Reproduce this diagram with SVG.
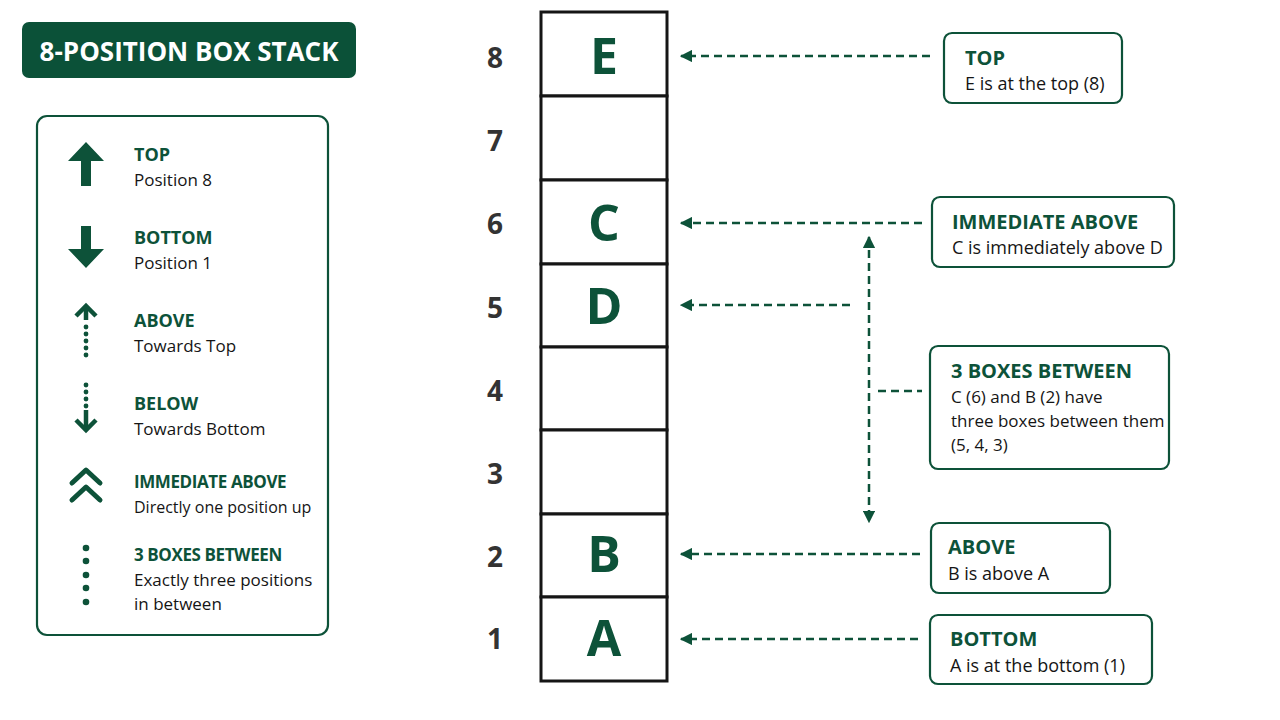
<svg xmlns="http://www.w3.org/2000/svg" width="1280" height="720" viewBox="0 0 1280 720">
<defs>
<style>
text{font-family:"Open Sans","Noto Sans","Liberation Sans",sans-serif}
.ttl{fill:#0d5239;font-weight:700;font-size:20px}
.sub{fill:#151515;font-size:18px}
.sub2{fill:#151515;font-size:17px}
.lt{fill:#0d5239;font-weight:700;font-size:18px}
.lt2{fill:#0d5239;font-weight:700;font-size:17px;letter-spacing:-0.4px}
.ls{fill:#151515;font-size:17px}
.ls2{fill:#151515;font-size:16px}
.box{fill:#fff;stroke:#0d5239;stroke-width:2.2}
.cell{fill:#fff;stroke:#151515;stroke-width:3}
.let{fill:#0d5239;font-weight:700;font-size:50px;text-anchor:middle}
.num{fill:#333;font-weight:700;font-size:28px;text-anchor:middle}
.dash{stroke:#0d5239;stroke-width:2.5;stroke-dasharray:8 5;fill:none}
.ic{fill:#0d5239}
</style>
<marker id="ah" viewBox="0 0 10 10" refX="9" refY="5" markerWidth="5" markerHeight="5" orient="auto-start-reverse" markerUnits="strokeWidth">
<path d="M0,0 L10,5 L0,10 z" fill="#0d5239"/>
</marker>
</defs>
<rect width="1280" height="720" fill="#fff"/>

<g id="title">
<rect x="22" y="22" width="334" height="56" rx="7" fill="#0b5138"/>
<text x="189" y="61" text-anchor="middle" fill="#fff" font-weight="700" font-size="26">8-POSITION BOX STACK</text>
</g>

<g id="legend">
<rect x="37" y="116" width="291" height="519" rx="10" class="box"/>
<path class="ic" d="M86,142 L104,161 L91,161 L91,186 L81,186 L81,161 L68,161 Z"/>
<text x="134" y="161" class="lt">TOP</text>
<text x="134" y="186" class="ls">Position 8</text>
<path class="ic" d="M86,268 L104,249 L91,249 L91,226 L81,226 L81,249 L68,249 Z"/>
<text x="134" y="244" class="lt">BOTTOM</text>
<text x="134" y="269" class="ls">Position 1</text>
<path d="M76,316 L86,306 L96,316" fill="none" stroke="#0d5239" stroke-width="4.5" stroke-linejoin="miter"/>
<line x1="86" y1="308" x2="86" y2="320" stroke="#0d5239" stroke-width="4.5"/>
<g class="ic"><circle cx="86" cy="327" r="2.4"/><circle cx="86" cy="334" r="2.4"/><circle cx="86" cy="341" r="2.4"/><circle cx="86" cy="348" r="2.4"/><circle cx="86" cy="355" r="2.4"/></g>
<text x="134" y="327" class="lt">ABOVE</text>
<text x="134" y="352" class="ls">Towards Top</text>
<g class="ic"><circle cx="86" cy="385" r="2.4"/><circle cx="86" cy="392" r="2.4"/><circle cx="86" cy="399" r="2.4"/><circle cx="86" cy="406" r="2.4"/></g>
<line x1="86" y1="410" x2="86" y2="428" stroke="#0d5239" stroke-width="4.5"/>
<path d="M76,420 L86,430 L96,420" fill="none" stroke="#0d5239" stroke-width="4.5"/>
<text x="134" y="410" class="lt">BELOW</text>
<text x="134" y="435" class="ls">Towards Bottom</text>
<path d="M72,483 L86,470 L100,483 M72,500 L86,487 L100,500" fill="none" stroke="#0d5239" stroke-width="5" stroke-linecap="round" stroke-linejoin="round"/>
<text x="134" y="488" class="lt2">IMMEDIATE ABOVE</text>
<text x="134" y="513" class="ls2">Directly one position up</text>
<g class="ic"><circle cx="86" cy="548" r="3.3"/><circle cx="86" cy="561" r="3.3"/><circle cx="86" cy="575" r="3.3"/><circle cx="86" cy="588" r="3.3"/><circle cx="86" cy="602" r="3.3"/></g>
<text x="134" y="561" class="lt2">3 BOXES BETWEEN</text>
<text x="134" y="586" class="ls">Exactly three positions</text>
<text x="134" y="610" class="ls">in between</text>
</g>

<g id="stack">
<g id="cell8"><rect x="541" y="12" width="126" height="84" class="cell"/><text x="604" y="74" class="let">E</text><text x="495" y="68" class="num">8</text></g>
<g id="cell7"><rect x="541" y="96" width="126" height="84" class="cell"/><text x="495" y="151" class="num">7</text></g>
<g id="cell6"><rect x="541" y="180" width="126" height="84" class="cell"/><text x="604" y="241" class="let">C</text><text x="495" y="234" class="num">6</text></g>
<g id="cell5"><rect x="541" y="264" width="126" height="83" class="cell"/><text x="604" y="324" class="let">D</text><text x="495" y="318" class="num">5</text></g>
<g id="cell4"><rect x="541" y="347" width="126" height="83" class="cell"/><text x="495" y="401" class="num">4</text></g>
<g id="cell3"><rect x="541" y="430" width="126" height="84" class="cell"/><text x="495" y="484" class="num">3</text></g>
<g id="cell2"><rect x="541" y="514" width="126" height="83" class="cell"/><text x="604" y="572" class="let">B</text><text x="495" y="567" class="num">2</text></g>
<g id="cell1"><rect x="541" y="597" width="126" height="84" class="cell"/><text x="604" y="656" class="let">A</text><text x="495" y="649" class="num">1</text></g>
</g>

<g id="connectors">
<line x1="930" y1="56" x2="681" y2="56" class="dash" marker-end="url(#ah)"/>
<line x1="922" y1="223" x2="681" y2="223" class="dash" marker-end="url(#ah)"/>
<line x1="850" y1="305" x2="681" y2="305" class="dash" marker-end="url(#ah)"/>
<line x1="869" y1="237" x2="869" y2="522" class="dash" marker-start="url(#ah)" marker-end="url(#ah)"/>
<line x1="878" y1="391" x2="922" y2="391" class="dash"/>
<line x1="920" y1="554" x2="681" y2="554" class="dash" marker-end="url(#ah)"/>
<line x1="918" y1="639" x2="681" y2="639" class="dash" marker-end="url(#ah)"/>
</g>

<g id="call-top">
<rect x="944" y="33" width="178" height="70" rx="8" class="box"/>
<text x="965" y="65" class="ttl">TOP</text>
<text x="965" y="90" class="sub">E is at the top (8)</text>
</g>
<g id="call-immediate">
<rect x="932" y="197" width="242" height="70" rx="8" class="box"/>
<text x="952" y="229" class="ttl">IMMEDIATE ABOVE</text>
<text x="952" y="254" class="sub">C is immediately above D</text>
</g>
<g id="call-between">
<rect x="930" y="346" width="239" height="123" rx="8" class="box"/>
<text x="951" y="378" class="ttl">3 BOXES BETWEEN</text>
<text x="951" y="403" class="sub2">C (6) and B (2) have</text>
<text x="951" y="427" class="sub2">three boxes between them</text>
<text x="951" y="451" class="sub2">(5, 4, 3)</text>
</g>
<g id="call-above">
<rect x="931" y="523" width="179" height="70" rx="8" class="box"/>
<text x="948" y="554" class="ttl">ABOVE</text>
<text x="948" y="580" class="sub">B is above A</text>
</g>
<g id="call-bottom">
<rect x="930" y="615" width="222" height="69" rx="8" class="box"/>
<text x="950" y="646" class="ttl">BOTTOM</text>
<text x="950" y="672" class="sub">A is at the bottom (1)</text>
</g>
</svg>
